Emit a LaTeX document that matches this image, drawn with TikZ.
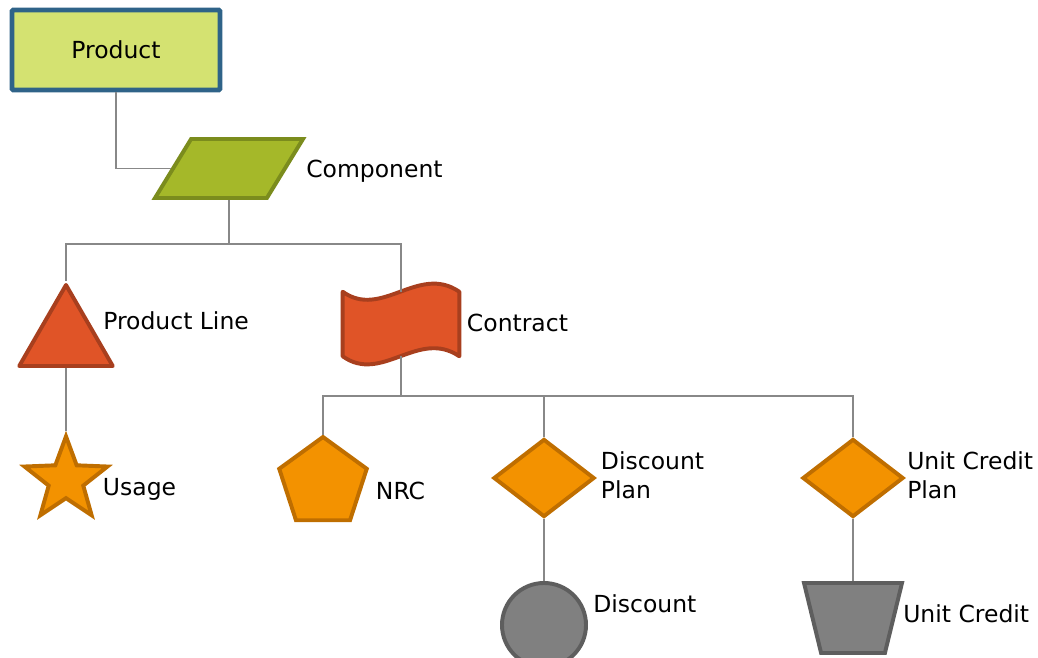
\documentclass[tikz,border=0pt]{standalone}
\usepackage{fontspec}
\setmainfont{DejaVu Sans}
\usetikzlibrary{shapes.geometric}

\definecolor{prodfill}{HTML}{D4E271}
\definecolor{prodedge}{HTML}{2F6388}
\definecolor{compfill}{HTML}{A5B829}
\definecolor{compedge}{HTML}{7B8C1D}
\definecolor{redfill}{HTML}{E05427}
\definecolor{rededge}{HTML}{A83F1E}
\definecolor{orgfill}{HTML}{F39200}
\definecolor{orgedge}{HTML}{BF6E00}
\definecolor{grayfill}{HTML}{808080}
\definecolor{grayedge}{HTML}{5E5E5E}
\definecolor{linkgray}{HTML}{888888}

\begin{document}
\begin{tikzpicture}[
  x=0.025cm, y=-0.025cm,
  prodbox/.style={rectangle, draw=prodedge, fill=prodfill, line width=3.4pt, minimum width=5.2cm, minimum height=2cm, rounded corners=1pt},
  compbox/.style={trapezium, trapezium left angle=64.5, trapezium right angle=115.5, trapezium stretches=true, minimum width=3.7cm, minimum height=1.475cm, draw=compedge, fill=compfill, line width=2.8pt, inner sep=2pt},
  redshape/.style={draw=rededge, fill=redfill, line width=2.8pt, line join=round, inner sep=0pt},
  orgshape/.style={draw=orgedge, fill=orgfill, line width=2.8pt, inner sep=0pt},
  grayshape/.style={draw=grayedge, fill=grayfill, line width=2.8pt, inner sep=0pt},
  link/.style={draw=linkgray, line width=1.4pt},
  txt/.style={inner sep=0pt, anchor=base west},
  txttwo/.style={inner sep=0pt, anchor=west, align=left},
  font=\fontsize{16.7}{20.3}\selectfont
]
\useasboundingbox (0,0) rectangle (1038,657);

% Shapes
\node[prodbox] (product) at (116,50) {Product};
\node[compbox] (component) at (229,168.5) {};
\node[redshape, regular polygon, regular polygon sides=3, minimum size=2.7cm] (prodline) at (66,339) {};
\node[minimum width=2.9cm, minimum height=1.6cm, inner sep=0pt] (contract) at (401,324) {};
\draw[redshape] (contract.north west) .. controls +(39,28) and +(-41,-28) .. (contract.north east)
  -- (contract.south east) .. controls +(-41,-28) and +(39,28) .. (contract.south west) -- cycle;
\node[orgshape, star, star points=5, star point ratio=2.4, minimum size=2.18cm] (usage) at (66,480) {};
\node[orgshape, regular polygon, regular polygon sides=5, minimum size=2.3cm] (nrc) at (323,483) {};
\node[orgshape, diamond, minimum width=2.525cm, minimum height=1.95cm] (dplan) at (544,478) {};
\node[orgshape, diamond, minimum width=2.525cm, minimum height=1.95cm] (ucplan) at (853,478) {};
\node[grayshape, circle, minimum size=2.1cm] (discount) at (544,625) {};
\node[grayshape, trapezium, trapezium left angle=105, trapezium right angle=105, trapezium stretches=true, inner sep=2pt, minimum width=2.45cm, minimum height=1.75cm] (ucredit) at (853,618) {};

% Labels
\node[txt] (componentlbl) at (306,177) {Component};
\node[txt] (prodlinelbl) at (103,329) {Product Line};
\node[txt] (contractlbl) at (466.7,331.7) {Contract};
\node[txt] (usagelbl) at (102.7,495.7) {Usage};
\node[txt] (nrclbl) at (375.7,499.3) {NRC};
\node[txttwo] (dplanlbl) at (600.7,475.2) {Discount\\Plan};
\node[txttwo] (ucplanlbl) at (907,475.2) {Unit Credit\\Plan};
\node[txt] (discountlbl) at (593,612) {Discount};
\node[txt] (ucreditlbl) at (903,622) {Unit Credit};

% Links
\draw[link] (product.south) |- (component.west);
\draw[link] (component.center |- component.south) -- ++(0,44) -| (prodline.north);
\draw[link] (component.center |- component.south) -- ++(0,44) -| (contract.north);
\draw[link] (prodline.south) -- (usage.north);
\draw[link] (contract.south) -- ++(0,40) -| (nrc.north);
\draw[link] (contract.south) -- ++(0,40) -| (dplan.north);
\draw[link] (contract.south) -- ++(0,40) -| (ucplan.north);
\draw[link] (dplan.south) -- (discount.north);
\draw[link] (ucplan.south) -- (ucredit.north);
\end{tikzpicture}
\end{document}
